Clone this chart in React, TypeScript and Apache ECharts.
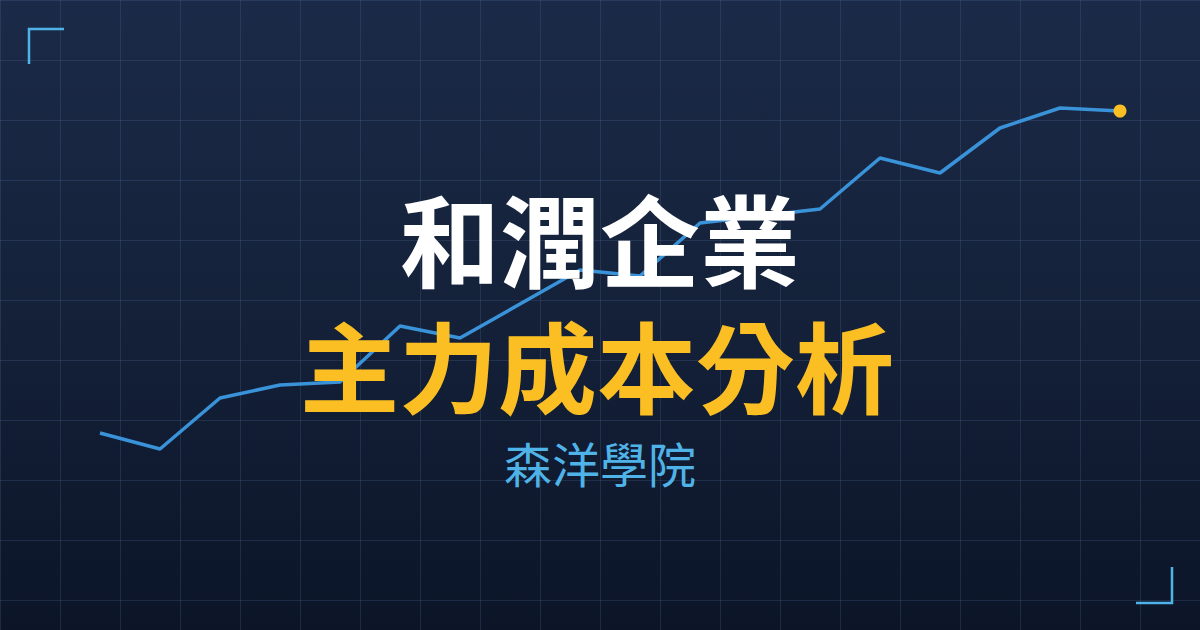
import { useEffect, useRef } from "react";
import * as echarts from "echarts";

// 主力成本走勢 (示意), 18 個交易日
const days = [
  "D1", "D2", "D3", "D4", "D5", "D6", "D7", "D8", "D9",
  "D10", "D11", "D12", "D13", "D14", "D15", "D16", "D17", "D18",
];
const costValues = [
  19.7, 18.1, 23.2, 24.5, 24.8, 30.4, 29.2, 32.6, 36.0,
  35.4, 40.7, 41.4, 42.1, 47.2, 45.7, 50.2, 52.2, 51.9,
];

const titleText = "和潤企業";
const subtitleText = "主力成本分析";
const brandText = "森洋學院";

const FONT = '"Noto Sans CJK TC", "Noto Sans CJK SC", sans-serif';
const GRID_LINE = "rgba(100, 130, 180, 0.2)";
const ACCENT = "#4fb3e8";
const YELLOW = "#fbbf24";

export default function App() {
  const ref = useRef<HTMLDivElement>(null);

  useEffect(() => {
    if (!ref.current) return;
    const chart = echarts.init(ref.current, undefined, { renderer: "svg" });
    const last = costValues.length - 1;

    chart.setOption({
      animation: false,
      backgroundColor: "transparent",
      grid: [
        { left: 0, right: 0, top: 0, bottom: 0 },
        { left: 100, right: 80, top: 0, bottom: 0 },
      ],
      xAxis: [
        {
          gridIndex: 0,
          type: "value",
          min: 0,
          max: 20,
          interval: 1,
          axisLine: { show: false },
          axisTick: { show: false },
          axisLabel: { show: false },
          splitLine: { show: true, lineStyle: { color: GRID_LINE, width: 1 } },
        },
        {
          gridIndex: 1,
          type: "category",
          data: days,
          boundaryGap: false,
          show: false,
        },
      ],
      yAxis: [
        {
          gridIndex: 0,
          type: "value",
          min: 0,
          max: 10.5,
          interval: 1,
          inverse: true,
          axisLine: { show: false },
          axisTick: { show: false },
          axisLabel: { show: false },
          splitLine: { show: true, lineStyle: { color: GRID_LINE, width: 1 } },
        },
        {
          gridIndex: 1,
          type: "value",
          min: 0,
          max: 63,
          show: false,
        },
      ],
      series: [
        {
          type: "line",
          xAxisIndex: 1,
          yAxisIndex: 1,
          data: costValues,
          symbol: "none",
          lineStyle: { color: "#3a93d8", width: 3.5 },
          z: 3,
        },
        {
          type: "scatter",
          xAxisIndex: 1,
          yAxisIndex: 1,
          data: [[last, costValues[last]]],
          symbol: "circle",
          symbolSize: 13,
          itemStyle: { color: YELLOW, opacity: 1 },
          z: 4,
        },
      ],
      graphic: [
        {
          type: "polyline",
          z: 50,
          shape: { points: [[29, 64], [29, 29], [64, 29]] },
          style: { stroke: ACCENT, lineWidth: 2.5, fill: "none" },
        },
        {
          type: "polyline",
          z: 50,
          shape: { points: [[1136, 603], [1172, 603], [1172, 567]] },
          style: { stroke: ACCENT, lineWidth: 2.5, fill: "none" },
        },
        {
          type: "text",
          z: 100,
          x: 600,
          y: 236,
          style: {
            text: titleText,
            fill: "#ffffff",
            font: `bold 100px ${FONT}`,
            lineHeight: 100,
            align: "center",
            verticalAlign: "middle",
          },
        },
        {
          type: "text",
          z: 100,
          x: 597,
          y: 363,
          style: {
            text: subtitleText,
            fill: YELLOW,
            font: `bold 99px ${FONT}`,
            lineHeight: 96,
            align: "center",
            verticalAlign: "middle",
          },
        },
        {
          type: "text",
          z: 100,
          x: 600,
          y: 462,
          style: {
            text: brandText,
            fill: ACCENT,
            font: `400 48px ${FONT}`,
            lineHeight: 48,
            align: "center",
            verticalAlign: "middle",
          },
        },
      ],
    });

    return () => chart.dispose();
  }, []);

  return (
    <div
      ref={ref}
      style={{
        position: "absolute",
        left: 0,
        top: 0,
        width: 1200,
        height: 630,
        background: "linear-gradient(180deg, #1b2a48 0%, #142139 50%, #0c1528 100%)",
      }}
    />
  );
}
